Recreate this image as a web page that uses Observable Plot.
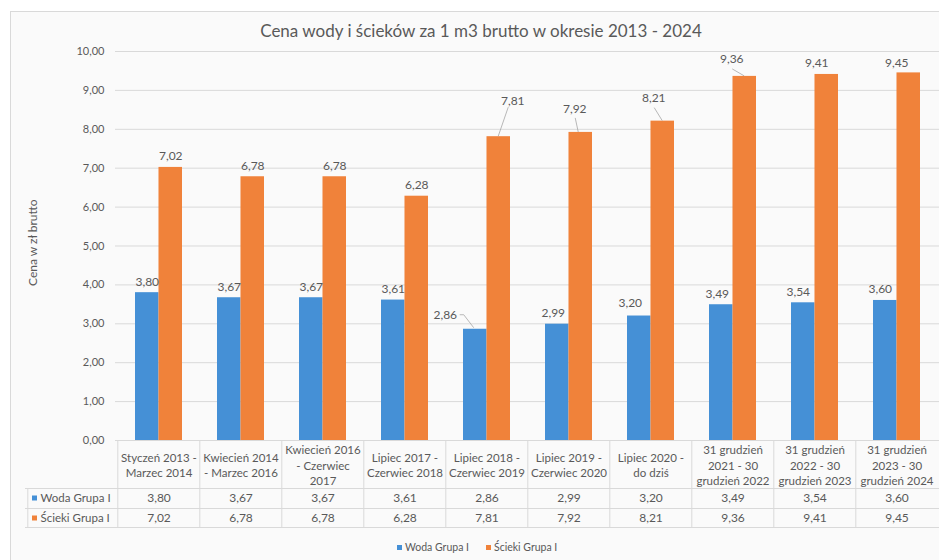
<!DOCTYPE html>
<html><head><meta charset="utf-8">
<script src="https://cdn.jsdelivr.net/npm/d3@7"></script>
<script src="https://cdn.jsdelivr.net/npm/@observablehq/plot@0.6"></script>
<style>
body{margin:0;background:#fff;width:939px;height:560px;overflow:hidden;position:relative;font-family:Lato,sans-serif;}
#frame{position:absolute;left:10px;top:11px;width:980px;height:600px;border:1px solid #d9d9d9;background:#fafafa;}
#title{position:absolute;left:0;top:20px;width:962px;text-align:center;font-size:17px;color:#595959;}
#chart{position:absolute;left:0;top:40px;}
#legend{position:absolute;top:541px;left:397px;font-size:10.5px;color:#595959;display:flex;align-items:center;white-space:nowrap;}
#legend .sw{display:inline-block;width:5px;height:5px;margin-right:3px;}
#legend .it{display:flex;align-items:center;margin-right:17px;}
</style>
</head><body>
<div id="frame"></div>
<div id="title">Cena wody i ścieków za 1 m3 brutto w okresie 2013 - 2024</div>
<div id="chart"></div>
<div id="legend"></div>
<script>
// ---- data ----
const categories = [
  "Styczeń 2013 -\nMarzec 2014",
  "Kwiecień 2014\n- Marzec 2016",
  "Kwiecień 2016\n- Czerwiec\n2017",
  "Lipiec 2017 -\nCzerwiec 2018",
  "Lipiec 2018 -\nCzerwiec 2019",
  "Lipiec 2019 -\nCzerwiec 2020",
  "Lipiec 2020 -\ndo dziś",
  "31 grudzień\n2021 - 30\ngrudzień 2022",
  "31 grudzień\n2022 - 30\ngrudzień 2023",
  "31 grudzień\n2023 - 30\ngrudzień 2024"
];
const seriesNames = ["Woda Grupa I", "Ścieki Grupa I"];
const woda   = [3.80, 3.67, 3.67, 3.61, 2.86, 2.99, 3.20, 3.49, 3.54, 3.60];
const scieki = [7.02, 6.78, 6.78, 6.28, 7.81, 7.92, 8.21, 9.36, 9.41, 9.45];
const yTicks = [0, 1, 2, 3, 4, 5, 6, 7, 8, 9, 10];

// ---- style ----
const colors = ["#4590d6", "#f0823a"];
const labelColor = "#595959";
const lineColor = "#d9d9d9";
// manual label nudges (pixels) as in the original, [dx, dy]
const labelShift = [
  [[0,0],[0,0],[0,0],[0,0],[-30,-3],[-4,0],[-9,-2],[-4,0],[-5,0],[-5,0]],
  [[0,0],[0,0],[0,0],[0,0],[14,-25],[-6,-12],[-9,-12],[-13,-6],[-10,0],[-12,1]]
];
// leader lines: [series, index, points relative to bar top]
const leaders = [
  [0, 4, [[-15,-14],[-11,-14],[-1,-1]]],
  [1, 4, [[10,-29],[0,0]]],
  [1, 5, [[-5,-14],[-2,0]]],
  [1, 6, [[-8,-13],[0,0]]],
  [1, 7, [[-12,-7],[0,0]]]
];

const fmt = v => v.toFixed(2).replace(".", ",");
const width = 939, height = 495, mL = 115, mR = 0, mT = 11, mB = 95;
const step = (width - mL - mR) / categories.length;
const pIn = 0.43;
const bw = step * (1 - pIn);
const half = bw / 2, quarter = bw / 4;
const plotH = height - mT - mB;

const seriesVals = [woda, scieki];
const rows = [];
seriesVals.forEach((vals, s) => vals.forEach((v, i) => rows.push({cat: categories[i], s, i, value: v})));

const labelMarks = rows.map(r => Plot.text([r], {
  x: "cat", y: "value", text: d => fmt(d.value),
  dx: (r.s === 0 ? -quarter : quarter) + labelShift[r.s][r.i][0],
  dy: -11 + labelShift[r.s][r.i][1],
  lineAnchor: "middle", fill: labelColor, fontSize: 12
}));

const plot = Plot.plot({
  width, height, marginLeft: mL, marginRight: mR, marginTop: mT, marginBottom: mB,
  style: {fontFamily: "Lato, sans-serif", fontSize: "11px", color: labelColor, background: "transparent", overflow: "visible"},
  x: {domain: categories, paddingInner: pIn, paddingOuter: pIn / 2, axis: null},
  y: {domain: [0, 10], ticks: yTicks, tickFormat: fmt, tickSize: 0, tickPadding: 11, label: null},
  marks: [
    Plot.ruleY(yTicks.slice(1), {stroke: lineColor}),
    // table lines
    Plot.ruleY([0], {stroke: lineColor}),
    Plot.ruleY([0], {stroke: lineColor, dy: 48, insetLeft: -90}),
    Plot.ruleY([0], {stroke: lineColor, dy: 68, insetLeft: -90}),
    Plot.ruleY([0], {stroke: lineColor, dy: 87, insetLeft: -90}),
    Plot.ruleX(categories, {x: d => d, dx: -step / 2, insetTop: plotH, insetBottom: -87, stroke: lineColor}),
    Plot.ruleX([categories[0]], {x: d => d, dx: -step / 2 - 90, insetTop: plotH + 48, insetBottom: -87, stroke: lineColor}),
    // bars
    Plot.barY(rows.filter(r => r.s === 0), {x: "cat", y: "value", fill: colors[0], insetRight: half}),
    Plot.barY(rows.filter(r => r.s === 1), {x: "cat", y: "value", fill: colors[1], insetLeft: half}),
    ...labelMarks,
    // table text
    Plot.text(categories, {x: d => d, text: d => d, frameAnchor: "bottom", dy: 24, lineAnchor: "middle", lineHeight: 1.36, fill: labelColor, fontSize: 11.5}),
    Plot.text(woda, {x: (d, i) => categories[i], text: d => fmt(d), frameAnchor: "bottom", dy: 58, lineAnchor: "middle", fill: labelColor, fontSize: 12}),
    Plot.text(scieki, {x: (d, i) => categories[i], text: d => fmt(d), frameAnchor: "bottom", dy: 78, lineAnchor: "middle", fill: labelColor, fontSize: 12}),
    Plot.text([seriesNames[0]], {text: d => d, frameAnchor: "bottom-left", dx: -75, dy: 58, textAnchor: "start", lineAnchor: "middle", fill: labelColor, fontSize: 11.5}),
    Plot.text([seriesNames[1]], {text: d => d, frameAnchor: "bottom-left", dx: -75, dy: 78, textAnchor: "start", lineAnchor: "middle", fill: labelColor, fontSize: 11.5}),
    // axis title
    Plot.text(["Cena w zł brutto"], {text: d => d, frameAnchor: "left", dx: -82, dy: 40, rotate: -90, lineAnchor: "middle", fill: labelColor, fontSize: 12})
  ]
});

// table row swatches & leader lines (positions from the plot's scales)
const svg = d3.select(plot);
const xs = plot.scale("x"), ys = plot.scale("y");
[0, 1].forEach(s => {
  svg.append("rect").attr("x", mL - 83).attr("y", ys.apply(0) + (s ? 78 : 58) - 2.5)
    .attr("width", 5).attr("height", 5).attr("fill", colors[s]);
});
leaders.forEach(([s, i, pts]) => {
  const v = seriesVals[s][i];
  const cx = xs.apply(categories[i]) + (s === 0 ? quarter : 3 * quarter);
  const cy = ys.apply(v);
  svg.append("path").attr("d", d3.line()(pts.map(([dx, dy]) => [cx + dx, cy + dy])))
    .attr("fill", "none").attr("stroke", "#a6a6a6").attr("stroke-width", 0.8);
});
document.getElementById("chart").appendChild(plot);

const leg = d3.select("#legend");
seriesNames.forEach((n, s) => {
  const it = leg.append("span").attr("class", "it");
  it.append("span").attr("class", "sw").style("background", colors[s]);
  it.append("span").text(n);
});
</script>
</body></html>
